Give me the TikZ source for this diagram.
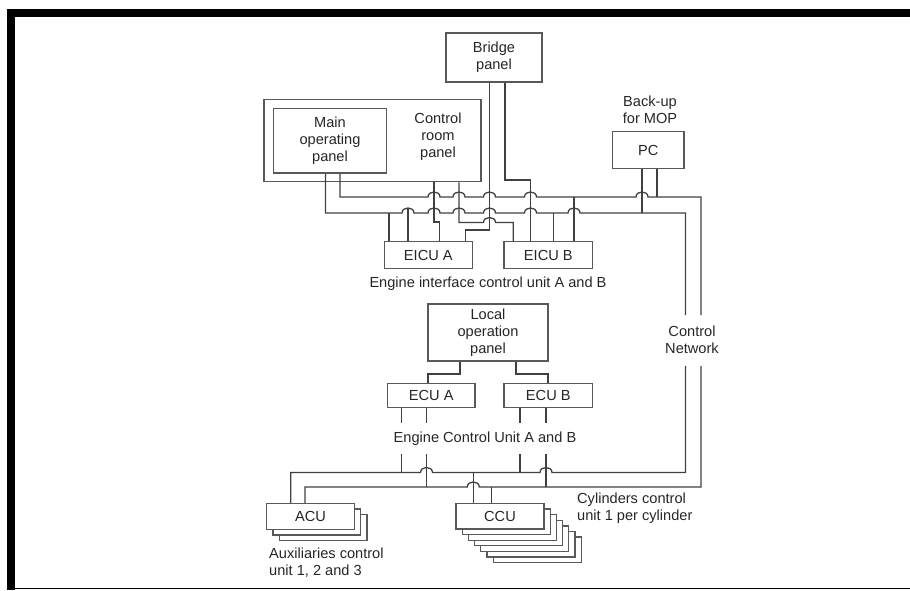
\documentclass[tikz,border=0pt]{standalone}
\usepackage{fontspec}
\setmainfont{Liberation Sans}
\newcommand\lblfont{\fontsize{14.6}{17}\selectfont}
\def\hop#1#2{-- (#1-6,#2) .. controls (#1-6,#2-6.7) and (#1+6,#2-6.7) .. (#1+6,#2)}
\begin{document}
\begin{tikzpicture}[x=1pt,y=-1pt,
  wire/.style={draw=black!75, line width=1.3pt},
  boxline/.style={draw=black!65, line width=1.3pt},
  box/.style={boxline, fill=white, inner sep=0pt, align=center, font=\lblfont, text=black!85},
  lbl/.style={inner sep=0pt, align=center, font=\lblfont, text=black!85},
  lbll/.style={inner sep=0pt, align=left, font=\lblfont, text=black!85, anchor=west}]
\useasboundingbox (0,0) rectangle (910,590);
% frame
\fill[black] (7,9) rectangle (910,17);
\fill[black] (7,9) rectangle (15,590);
\draw[line width=1.5pt] (7,588.5) -- (910,588.5);

% boxes
\node[box, minimum width=96pt, minimum height=49pt] (bridge) at (494,57.5) {Bridge\\panel};
\node[box, minimum width=217pt, minimum height=82.5pt] (crp) at (372.5,140.5) {};
\node[box, minimum width=113.5pt, minimum height=64.7pt] (mop) at (330,140.6) {Main\\operating\\panel};
\node[lbl] (crtext) at (438,137) {Control\\room\\panel};
\node[lbl] (backup) at (650,110) {Back-up\\for MOP};
\node[box, minimum width=71.3pt, minimum height=36.6pt] (pc) at (648.3,150) {PC};
\node[box, minimum width=88pt, minimum height=26.6pt] (eicua) at (428.3,255) {EICU A};
\node[box, minimum width=88.7pt, minimum height=26.6pt] (eicub) at (548.3,255) {EICU B};
\node[lbl] (eiculbl) at (488,284) {Engine interface control unit A and B};
\node[box, minimum width=120pt, minimum height=57pt] (lop) at (488,332.5) {Local\\operation\\panel};
\node[box, minimum width=87.7pt, minimum height=24.4pt] (ecua) at (431.2,395.5) {ECU A};
\node[box, minimum width=88.7pt, minimum height=24.4pt] (ecub) at (548.3,395.5) {ECU B};
\node[lbl] (eculbl) at (485,439) {Engine Control Unit A and B};
\node[lbl] (netlbl) at (692,340) {Control\\Network};

\foreach \k in {2,1}
  \draw[boxline, fill=white] (266.7+\k*6.3, 503.5+\k*5.5) rectangle ++(87.6,26);
\node[box, minimum width=87.6pt, minimum height=26pt] (acu) at (310.5,516.5) {ACU};
\foreach \k in {6,...,1}
  \draw[boxline, fill=white] (456+\k*6.2, 503.5+\k*5.6) rectangle ++(88,25.5);
\node[box, minimum width=88pt, minimum height=25.5pt] (ccu) at (500,516.25) {CCU};
\node[lbll] (ccttl) at (577,508.5) {Cylinders control\\unit 1 per cylinder};
\node[lbll] (acuttl) at (269,562.5) {Auxiliaries control\\unit 1, 2 and 3};

% upper buses
\draw[wire] (340,0 |- mop.south) -- (340,197) \hop{434}{197} \hop{459}{197} \hop{489.5}{197} \hop{530.5}{197} \hop{642}{197} -- (701,197) -- (701,315);
\draw[wire] (325.5,0 |- mop.south) -- (325.5,213) \hop{408}{213} \hop{434}{213} \hop{459}{213} \hop{489.5}{213} \hop{530.5}{213} \hop{574}{213} -- (685.5,213) -- (685.5,315);

\draw[wire] (389,213) -- (389,0 |- eicua.north);
\draw[wire] (408,208) -- (408,0 |- eicua.north);
\draw[wire] (434,0 |- crp.south) -- (434,222) -- (439.3,222) -- (439.3,0 |- eicua.north);
\draw[wire] (459,0 |- crp.south) -- (459,222.5) \hop{489.5}{222.5} -- (513.3,222.5) -- (513.3,0 |- eicub.north);
\draw[wire] (489.5,0 |- bridge.south) -- (489.5,230) -- (465.7,230) -- (465.7,0 |- eicua.north);
\draw[wire] (505,0 |- bridge.south) -- (505,180) -- (530.5,180) -- (530.5,0 |- eicub.north);
\draw[wire] (553.3,213) -- (553.3,0 |- eicub.north);
\draw[wire] (574,197) -- (574,0 |- eicub.north);
\draw[wire] (642,0 |- pc.south) -- (642,213);
\draw[wire] (657,0 |- pc.south) -- (657,197);

% local panel to ECUs
\draw[wire] (460,0 |- lop.south) -- (460,374) -- (428,374) -- (428,0 |- ecua.north);
\draw[wire] (516,0 |- lop.south) -- (516,374) -- (548,374) -- (548,0 |- ecub.north);

% ECU stubs
\foreach \xx in {401.7,426.5} \draw[wire] (\xx,0 |- ecua.south) -- (\xx,423);
\foreach \xx in {520,546} \draw[wire] (\xx,0 |- ecub.south) -- (\xx,423);

% lower buses
\draw[wire] (290.7,0 |- acu.north) -- (290.7,472.5) \hop{426.5}{472.5} \hop{546}{472.5} -- (685.5,472.5) -- (685.5,366);
\draw[wire] (305,0 |- acu.north) -- (305,487) \hop{473.3}{487} -- (701,487) -- (701,366);
\draw[wire] (401.7,454) -- (401.7,472.5);
\draw[wire] (426.5,454) -- (426.5,487);
\draw[wire] (520,454) -- (520,472.5);
\draw[wire] (546,454) -- (546,487);
\draw[wire] (473.3,472.5) -- (473.3,0 |- ccu.north);
\draw[wire] (491.7,487) -- (491.7,0 |- ccu.north);
\end{tikzpicture}
\end{document}
